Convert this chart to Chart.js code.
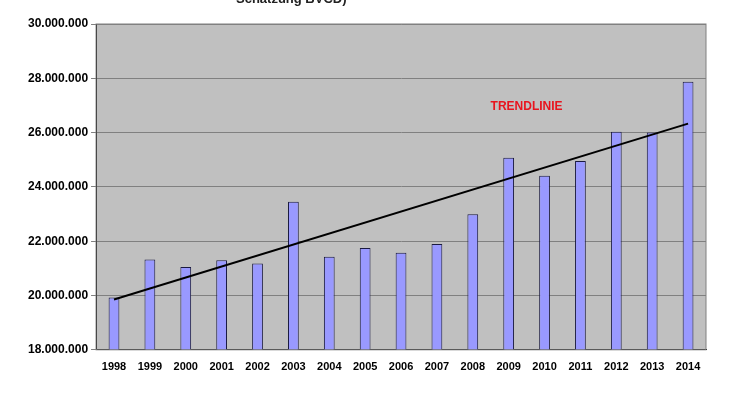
<!DOCTYPE html>
<html><head><meta charset="utf-8">
<script src="https://cdn.jsdelivr.net/npm/chart.js@4"></script>
<style>body{margin:0;background:#fff;overflow:hidden}#t{position:absolute;left:236px;top:-9px;font:bold 13px "Liberation Sans",Arial;color:#222}</style>
</head><body>
<div id="t">Schätzung BVCD)</div>
<canvas id="c" width="740" height="400"></canvas>
<script>
const years=["1998","1999","2000","2001","2002","2003","2004","2005","2006","2007","2008","2009","2010","2011","2012","2013","2014"];
const values=[19930000,21330000,21050000,21300000,21180000,23450000,21430000,21750000,21570000,21900000,22990000,25070000,24410000,24950000,26030000,26000000,27870000];
const trendStart=19850000, trendEnd=26330000;
const trendLabel="TRENDLINIE";
const trend=years.map((y,i)=>i===0?trendStart:(i===years.length-1?trendEnd:null));
const fmt=v=>v.toString().replace(/\B(?=(\d{3})+(?!\d))/g,".");
const bgPlugin={id:'bg',beforeDraw(c){const a=c.chartArea,x=c.ctx;x.save();x.fillStyle='#c0c0c0';x.fillRect(a.left,a.top,a.right-a.left,a.bottom-a.top);x.restore();},
afterDraw(c){const a=c.chartArea,x=c.ctx;x.save();x.strokeStyle='#808080';x.lineWidth=1;x.strokeRect(a.left,a.top,a.right-a.left,a.bottom-a.top);
x.fillStyle='#e8141e';x.font='bold 12px "Liberation Sans",Arial';x.textAlign='center';
x.fillText(trendLabel,c.scales.x.getPixelForValue(11.5),c.scales.y.getPixelForValue(26850000));x.restore();}};
new Chart(document.getElementById('c'),{
data:{labels:years,datasets:[
{type:'line',data:trend,spanGaps:true,borderColor:'#000',borderWidth:2,pointRadius:0,order:0},
{type:'bar',data:values,backgroundColor:'#9999ff',borderColor:'#1a1a40',borderWidth:1,barPercentage:0.3,categoryPercentage:1,order:1}]},
options:{responsive:false,animation:false,layout:{padding:{top:24,right:34,left:25,bottom:23}},
plugins:{legend:{display:false},tooltip:{enabled:false}},
scales:{x:{grid:{display:false},border:{color:'#000'},ticks:{color:'#000',font:{family:'Liberation Sans',weight:'bold',size:11},maxRotation:0}},
y:{min:18000000,max:30000000,ticks:{stepSize:2000000,color:'#000',font:{family:'Liberation Sans',weight:'bold',size:12},callback:v=>fmt(v)},grid:{color:'#808080',drawTicks:true,tickLength:5},border:{color:'#000'}}}},
plugins:[bgPlugin]});
</script></body></html>
